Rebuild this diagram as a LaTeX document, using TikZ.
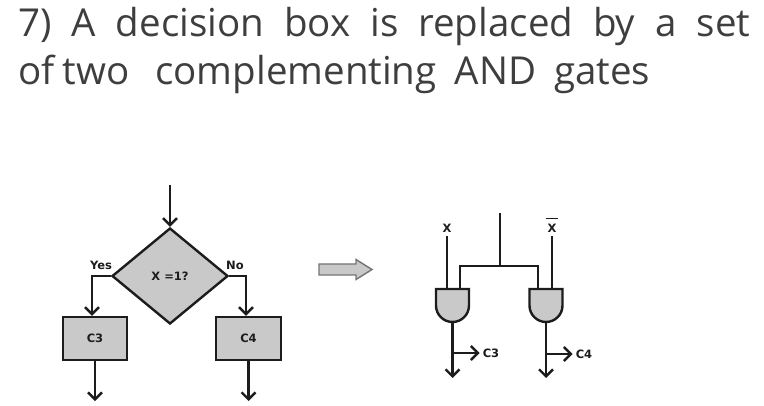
\documentclass[tikz,border=0pt]{standalone}
\usepackage{fontspec}
\setmainfont{Open Sans}
\newfontfamily\labelfont{DejaVu Sans}
\usepackage{xcolor}
\usetikzlibrary{arrows.meta,shapes.geometric}
\definecolor{boxgray}{HTML}{C9C9C9}
\definecolor{inkdark}{HTML}{1C1C1C}
\tikzset{
  title/.style={anchor=base west,inner sep=0pt,text=inkdark!85,font=\fontsize{38.5}{38}\selectfont},
  lab/.style={inner sep=0pt,text=inkdark,font=\labelfont\bfseries\fontsize{11.5}{12}\selectfont},
  wire/.style={draw=inkdark,line width=2.4pt},
  flow/.style={wire,-{Straight Barb[length=7pt,width=14pt,line width=2.4pt]}},
  block/.style={draw=inkdark,line width=2.4pt,fill=boxgray,inner sep=0pt}
}
\begin{document}
\begin{tikzpicture}[x=1pt,y=1pt]
  \useasboundingbox (0,0) rectangle (764,405);
  \node[title] (T1) at (18,368) {\makebox[732pt][s]{7) A decision box is replaced by a set}};
  \node[title] (T2) at (18,320) {of\hspace{8pt}two\hspace{26pt}complementing\hspace{18pt}AND\hspace{18pt}gates};

  % flowchart
  \coordinate (IN) at (170,220);
  \node[block,diamond,aspect=1.2,minimum width=116pt,minimum height=96pt,lab] (D) at (170,129) {X =1?};
  \node[block,minimum width=64pt,minimum height=43pt,lab] (C3) at (95,66.5) {C3};
  \node[block,minimum width=65pt,minimum height=43pt,lab] (C4) at (248.5,66.5) {C4};
  \coordinate (O3) at (95,4);
  \coordinate (O4) at (248.5,4);
  \draw[flow] (IN) -- (D.north);
  \draw[flow] (D.west) -| ([xshift=-3pt]C3.north);
  \draw[flow] (D.east) -| ([xshift=-2.5pt]C4.north);
  \draw[flow] (C3.south) -- (O3);
  \draw[flow] (C4.south) -- (O4);
  \node[lab] (Y) at (101,140) {Yes};
  \node[lab] (N) at (235,140) {No};

  % block arrow
  \draw[draw=black!55,line width=1.4pt,fill=boxgray] (319,130) -- (356,130) -- (356,125.5)
    -- (372,135.5) -- (356,145.5) -- (356,141) -- (319,141) -- cycle;

  % gates
  \draw[block] (436,116) -- (469,116) -- (469,99.5) arc[start angle=0,end angle=-180,radius=16.5pt] -- cycle;
  \draw[block] (529.5,116) -- (562.5,116) -- (562.5,99.5) arc[start angle=0,end angle=-180,radius=16.5pt] -- cycle;
  \node[lab,anchor=base] (X) at (447,172) {X};
  \node[lab,anchor=base] (XB) at (552,172) {$\overline{\raisebox{0pt}[13pt]{\,X\,}}$};
  \coordinate (G1) at (447,116);
  \coordinate (G2) at (552,116);
  \coordinate (G3) at (460,116);
  \coordinate (G4) at (538,116);
  \coordinate (TOP) at (500,192);
  \coordinate (J) at (500,139);
  \coordinate (OL) at (452.5,83);
  \coordinate (OR) at (546,83);
  \coordinate (EL) at (452.5,27);
  \coordinate (ER) at (546,27);
  \coordinate (BL) at (452.5,52);
  \coordinate (BR) at (546,51);
  \draw[wire] (X.south) ++(0,-3) -- (G1);
  \draw[wire] (XB.south) ++(0,-3) -- (G2);
  \draw[wire] (TOP) -- (J);
  \draw[wire] (G3) |- (J) -| (G4);
  \draw[flow] (OL) -- (EL);
  \draw[flow] (OR) -- (ER);
  \node[lab] (L3) at (491,52) {C3};
  \node[lab] (L4) at (584,51) {C4};
  \draw[flow,shorten >=3pt] (BL) -- (L3.west);
  \draw[flow,shorten >=3pt] (BR) -- (L4.west);
\end{tikzpicture}
\end{document}
